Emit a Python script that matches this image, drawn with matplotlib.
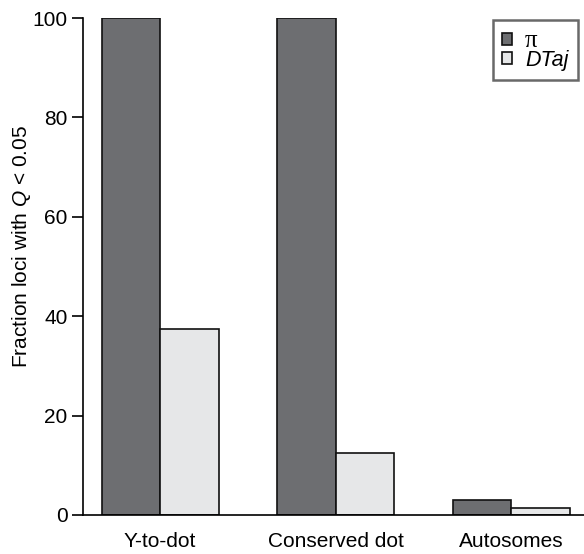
import matplotlib
matplotlib.use("Agg")
import matplotlib.pyplot as plt
import numpy as np

plt.rcParams['font.family'] = ['Liberation Sans', 'DejaVu Sans']
plt.rcParams['mathtext.fontset'] = 'custom'
plt.rcParams['mathtext.rm'] = 'Liberation Sans'
plt.rcParams['mathtext.it'] = 'Liberation Sans:italic'

categories = ["Y-to-dot", "Conserved dot", "Autosomes"]
pi_values = [100, 100, 3.0]
dtaj_values = [37.5, 12.5, 1.5]
y_ticks = [0, 20, 40, 60, 80, 100]

fig = plt.figure(figsize=(5.84, 5.54), dpi=100)
ax = fig.add_axes([0.142, 0.0704, 0.858, 0.897])

x = np.arange(len(categories))
w = 0.333
ax.bar(x - w / 2, pi_values, width=w, color="#6d6e71", edgecolor="#111111",
       linewidth=1.2, label="π")
ax.bar(x + w / 2, dtaj_values, width=w, color="#e6e7e8", edgecolor="#111111",
       linewidth=1.2, label="DTaj")

ax.set_xlim(-0.44, 2.415)
ax.set_ylim(0, 100)
ax.set_yticks(y_ticks)
ax.set_xticks(x)
ax.set_xticklabels(categories)
ax.tick_params(axis='x', length=0, pad=12, labelsize=15)
ax.tick_params(axis='y', length=8, width=1.2, labelsize=15, pad=3)
ax.set_ylabel(r"Fraction loci with $\it{Q}$ < 0.05", fontsize=15)
ax.yaxis.set_label_coords(-0.100, 0.541)

for side in ("top", "right"):
    ax.spines[side].set_visible(False)
for side in ("left", "bottom"):
    ax.spines[side].set_linewidth(1.2)

leg = ax.legend(loc="upper right", bbox_to_anchor=(578 / 584, 1 - 20 / 554),
                bbox_transform=fig.transFigure, frameon=True,
                fancybox=False, edgecolor="#444444", fontsize=15.5,
                handlelength=0.45, handleheight=0.45, handletextpad=0.6,
                borderpad=0.45, labelspacing=-0.1, borderaxespad=0.0)
leg.get_frame().set_linewidth(1.8)
leg.get_texts()[0].set_family("Liberation Serif")
leg.get_texts()[0].set_fontsize(18)
leg.get_texts()[1].set_style("italic")

fig.savefig("out.png", dpi=100)
